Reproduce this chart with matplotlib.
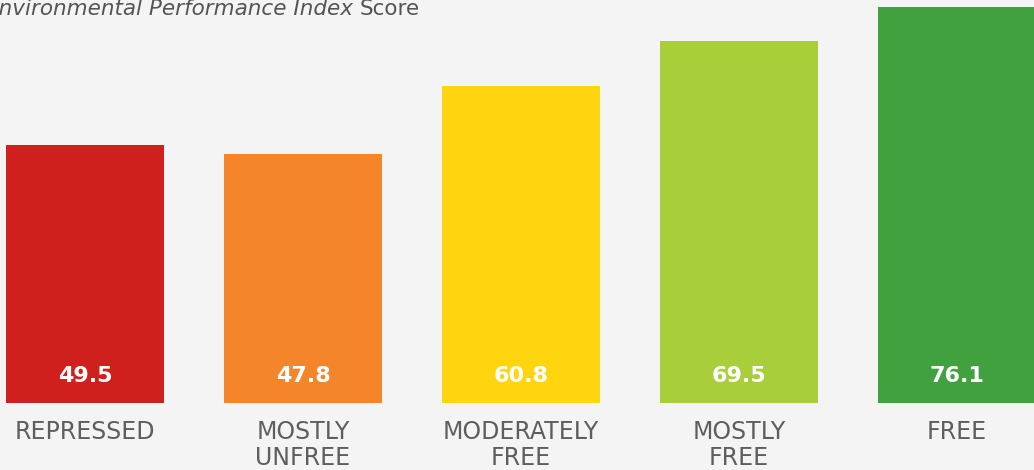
"""Bar chart of Environmental Performance Index score by freedom category."""

import matplotlib.pyplot as plt

categories = ["REPRESSED", "MOSTLY\nUNFREE", "MODERATELY\nFREE", "MOSTLY\nFREE", "FREE"]
scores = [49.5, 47.8, 60.8, 69.5, 76.1]
colors = ["#D0201E", "#F5852A", "#FFD50F", "#A8CE3A", "#41A13F"]

W, H, DPI = 1034, 470, 100
BG = "#F4F4F4"
FONT = "DejaVu Sans"

fig = plt.figure(figsize=(W / DPI, H / DPI), dpi=DPI, facecolor=BG)
# axes span full width; baseline sits at pixel row 403 from the top
ax = fig.add_axes([0, 67 / H, 1, 403 / H])
ax.set_facecolor(BG)

x = range(len(scores))
ax.bar(x, scores, width=158 / 218, color=colors, zorder=2)

# keep the last bar clipped on the right edge like the original
ax.set_xlim(-85 / 218, (W - 85) / 218)
ax.set_ylim(0, 403 / 5.21)

for i, v in zip(x, scores):
    ax.text(i, 27 / 5.21, f"{v:.1f}", ha="center", va="center",
            color="white", fontsize=16, fontweight="bold", family=FONT)

ax.set_xticks(list(x))
ax.set_xticklabels(categories, fontsize=17, color="#5E5E5E", family=FONT,
                   linespacing=1.1)
ax.tick_params(axis="x", length=0, pad=12.5)
ax.set_yticks([])
for s in ax.spines.values():
    s.set_visible(False)

# title: italic part followed by upright "Score", first letter cut off
tstyle = dict(fontsize=15.5, color="#555555", family=FONT, va="baseline", ha="left")
probe = fig.text(0, 0, "E", style="italic", **tstyle)
fig.canvas.draw()
e_w = probe.get_window_extent().width
probe.remove()
t1 = fig.text(-(e_w + 1) / W, 1 - 15 / H, "Environmental Performance Index",
              style="italic", **tstyle)
fig.canvas.draw()
bb = t1.get_window_extent()
fig.text((bb.x1 + 6) / W, 1 - 15 / H, "Score", **tstyle)

fig.savefig("out.png", dpi=DPI, facecolor=BG)
